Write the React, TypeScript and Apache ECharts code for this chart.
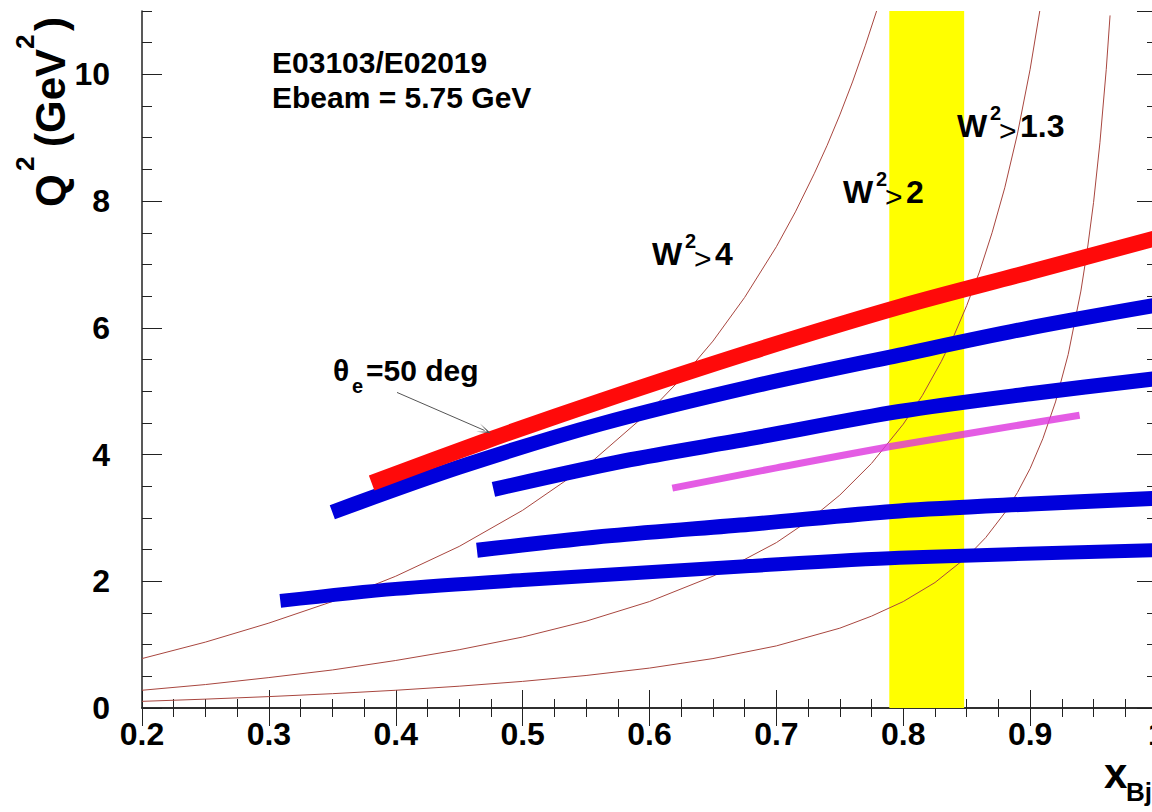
import React, { useEffect, useRef } from "react";
import * as echarts from "echarts";

// ---- axis ranges ----
const xRange = [0.2, 1.0];
const yRange = [0, 11];

// ---- yellow x band ----
const yellowBand = [0.789, 0.848];

// ---- W^2 threshold curves (x, Q^2) ----
const w2Gt4 = [
  [0.2, 0.78], [0.25, 1.04], [0.3, 1.34], [0.35, 1.68], [0.4, 2.08], [0.45, 2.55], [0.5, 3.12],
  [0.55, 3.81], [0.6, 4.68], [0.625, 5.2], [0.65, 5.79], [0.675, 6.48], [0.7, 7.28], [0.715, 7.83],
  [0.73, 8.44], [0.74, 8.88], [0.75, 9.36], [0.76, 9.88], [0.77, 10.45], [0.779, 11.0],
];
const w2Gt2 = [
  [0.2, 0.28], [0.25, 0.37], [0.3, 0.48], [0.35, 0.6], [0.4, 0.75], [0.45, 0.92], [0.5, 1.12],
  [0.55, 1.37], [0.6, 1.68], [0.65, 2.08], [0.7, 2.61], [0.725, 2.95], [0.75, 3.36], [0.775, 3.86],
  [0.8, 4.48], [0.815, 4.93], [0.83, 5.47], [0.84, 5.88], [0.85, 6.35], [0.86, 6.88], [0.87, 7.5],
  [0.88, 8.21], [0.89, 9.06], [0.9, 10.08], [0.9076, 11.0],
];
const w2Gt13 = [
  [0.2, 0.105], [0.25, 0.14], [0.3, 0.18], [0.35, 0.226], [0.4, 0.28], [0.45, 0.344], [0.5, 0.42],
  [0.55, 0.513], [0.6, 0.63], [0.65, 0.78], [0.7, 0.98], [0.75, 1.26], [0.775, 1.45], [0.8, 1.68],
  [0.825, 1.98], [0.85, 2.38], [0.865, 2.69], [0.88, 3.08], [0.89, 3.4], [0.9, 3.78], [0.91, 4.25],
  [0.92, 4.83], [0.93, 5.58], [0.94, 6.58], [0.945, 7.22], [0.95, 7.98], [0.955, 8.92], [0.96, 10.08],
  [0.963, 10.93],
];

// ---- kinematic bands (x, Q^2) ----
const theta50 = [[0.381, 3.55], [0.469, 4.2], [0.561, 4.84], [0.68, 5.62], [0.797, 6.33], [0.9, 6.88], [1.0, 7.42]];
const blueA = [[0.35, 3.09], [0.45, 3.8], [0.561, 4.48], [0.68, 5.07], [0.797, 5.57], [0.9, 6.0], [1.0, 6.36]];
const blueB = [[0.477, 3.45], [0.58, 3.9], [0.679, 4.25], [0.797, 4.68], [0.9, 4.96], [1.0, 5.2]];
const magentaBand = [[0.618, 3.47], [0.7, 3.79], [0.797, 4.15], [0.939, 4.62]];
const blueC = [[0.464, 2.49], [0.57, 2.72], [0.679, 2.9], [0.797, 3.11], [0.9, 3.22], [1.0, 3.31]];
const blueD = [[0.309, 1.69], [0.4, 1.88], [0.5, 2.02], [0.679, 2.24], [0.797, 2.37], [1.0, 2.49]];

// ---- annotation arrow (data coords) ----
const arrowFrom = [0.401, 4.98];
const arrowTo = [0.47, 4.38];

const FONT = '"Liberation Sans", Arial, Helvetica, sans-serif';

function txt(text: string, x: number, y: number, size: number, weight = "bold", extra: any = {}) {
  return {
    type: "text",
    x,
    y,
    z: 100,
    silent: true,
    style: {
      text,
      font: `${weight} ${size}px ${FONT}`,
      fill: "#000",
      textAlign: "left",
      align: "left",
      textVerticalAlign: "middle",
      verticalAlign: "middle",
      ...extra,
    },
  };
}

export default function App() {
  const ref = useRef<HTMLDivElement>(null);

  useEffect(() => {
    const chart = echarts.init(ref.current as HTMLDivElement, null, { renderer: "svg" });
    const gridRect = { left: 142, top: 11, width: 1015, height: 697, containLabel: false, outerBoundsMode: "none" };
    const axisLine = { show: true, lineStyle: { color: "#222", width: 1.5 } };
    const tick = (len: number) => ({ show: true, inside: true, length: len, lineStyle: { color: "#222", width: 1 } });
    const minor = { show: true, splitNumber: 4, length: 9, lineStyle: { color: "#222", width: 1 } };
    const labelStyle = { fontSize: 32, fontWeight: "bold", fontFamily: FONT, color: "#000" };

    const curve = (data: number[][]) => ({
      type: "line",
      data,
      xAxisIndex: 0,
      yAxisIndex: 0,
      symbol: "none",
      showSymbol: false,
      smooth: false,
      silent: true,
      z: 2,
      lineStyle: { color: "#a8463f", width: 1 },
    });
    const band = (data: number[][], color: string, width: number, z: number, opacity = 1) => ({
      type: "line",
      data,
      xAxisIndex: 0,
      yAxisIndex: 0,
      symbol: "none",
      showSymbol: false,
      smooth: 0.3,
      silent: true,
      z,
      lineStyle: { color, width, cap: "butt", join: "round", opacity },
    });

    const option: any = {
      animation: false,
      backgroundColor: "#ffffff",
      grid: [{ ...gridRect }, { ...gridRect }],
      xAxis: [
        {
          type: "value", gridIndex: 0, position: "bottom", min: xRange[0], max: xRange[1], interval: 0.1,
          axisLine, axisTick: tick(18), minorTick: minor, splitLine: { show: false },
          axisLabel: { ...labelStyle, margin: 10, showMinLabel: true, showMaxLabel: true },
        },
        {
          type: "value", gridIndex: 0, position: "top", min: xRange[0], max: xRange[1], interval: 0.1,
          axisLine, axisTick: tick(18), minorTick: minor, splitLine: { show: false }, axisLabel: { show: false },
        },
        { type: "value", gridIndex: 1, min: xRange[0], max: xRange[1], show: false },
      ],
      yAxis: [
        {
          type: "value", gridIndex: 0, position: "left", min: yRange[0], max: yRange[1], interval: 2,
          axisLine, axisTick: tick(20), splitLine: { show: false },
          axisLabel: { ...labelStyle, margin: 32, showMaxLabel: false },
        },
        {
          type: "value", gridIndex: 0, position: "right", min: yRange[0], max: yRange[1], interval: 2,
          axisLine, axisTick: tick(20), splitLine: { show: false }, axisLabel: { show: false },
        },
        {
          type: "value", gridIndex: 1, position: "left", min: yRange[0], max: yRange[1], interval: 0.5,
          axisLine: { show: false }, axisTick: tick(10), splitLine: { show: false }, axisLabel: { show: false },
        },
        {
          type: "value", gridIndex: 1, position: "right", min: yRange[0], max: yRange[1], interval: 0.5,
          axisLine: { show: false }, axisTick: tick(10), splitLine: { show: false }, axisLabel: { show: false },
        },
      ],
      series: [
        {
          type: "custom",
          xAxisIndex: 0,
          yAxisIndex: 0,
          z: 1,
          silent: true,
          data: [[yellowBand[0], yellowBand[1]]],
          renderItem: (params: any, api: any) => {
            const p0 = api.coord([api.value(0), yRange[1]]);
            const p1 = api.coord([api.value(1), yRange[0]]);
            return {
              type: "rect",
              shape: { x: p0[0], y: p0[1], width: p1[0] - p0[0], height: p1[1] - p0[1] },
              style: { fill: "#ffff00" },
            };
          },
        },
        curve(w2Gt4),
        curve(w2Gt2),
        curve(w2Gt13),
        band(blueD, "#0000dc", 14, 3),
        band(blueC, "#0000dc", 15, 3),
        band(magentaBand, "#dd33dd", 7, 3, 0.8),
        band(blueB, "#0000dc", 15, 3),
        band(blueA, "#0000dc", 15, 3),
        {
          ...band(theta50, "#ff0a0a", 16, 4),
          markLine: {
            silent: true,
            symbol: ["none", "path://M0,10 L5,0 L10,10 L5,3 Z"],
            symbolSize: [9, 14],
            label: { show: false },
            lineStyle: { color: "#555", width: 1, type: "solid" },
            itemStyle: { color: "#555" },
            data: [[{ coord: arrowFrom }, { coord: arrowTo }]],
          },
        },
      ],
      graphic: [
        txt("E03103/E02019", 272, 62, 30),
        txt("Ebeam = 5.75 GeV", 272, 97, 30),
        // theta_e = 50 deg
        txt("θ", 333, 370, 30),
        txt("e", 352, 386, 20),
        txt("=50 deg", 366, 370, 30),
        // W^2 > 4
        txt("W", 652, 254, 32),
        txt("2", 685, 241, 20),
        txt(">", 694, 258, 30, "normal"),
        txt("4", 715, 254, 32),
        // W^2 > 2
        txt("W", 843, 192, 32),
        txt("2", 876, 179, 20),
        txt(">", 885, 196, 30, "normal"),
        txt("2", 906, 192, 32),
        // W^2 > 1.3
        txt("W", 957, 126, 32),
        txt("2", 990, 113, 20),
        txt(">", 999, 130, 30, "normal"),
        txt("1.3", 1020, 126, 32),
        // x_Bj axis title
        txt("x", 1104, 773, 42),
        txt("Bj", 1126, 792, 26),
        // Q^2 (GeV^2) axis title (rotated)
        {
          type: "group",
          x: 50,
          y: 207,
          z: 100,
          rotation: Math.PI / 2,
          silent: true,
          children: [
            txt("Q", 0, 0, 42),
            txt("2", 36, -25, 26),
            txt("(GeV", 60, 0, 42),
            txt("2", 158, -25, 26),
            txt(")", 176, 0, 42),
          ],
        },
      ],
    };

    chart.setOption(option);
    return () => chart.dispose();
  }, []);

  return (
    <div
      ref={ref}
      style={{ position: "fixed", left: 0, top: 0, width: 1152, height: 812, background: "#fff" }}
    />
  );
}
